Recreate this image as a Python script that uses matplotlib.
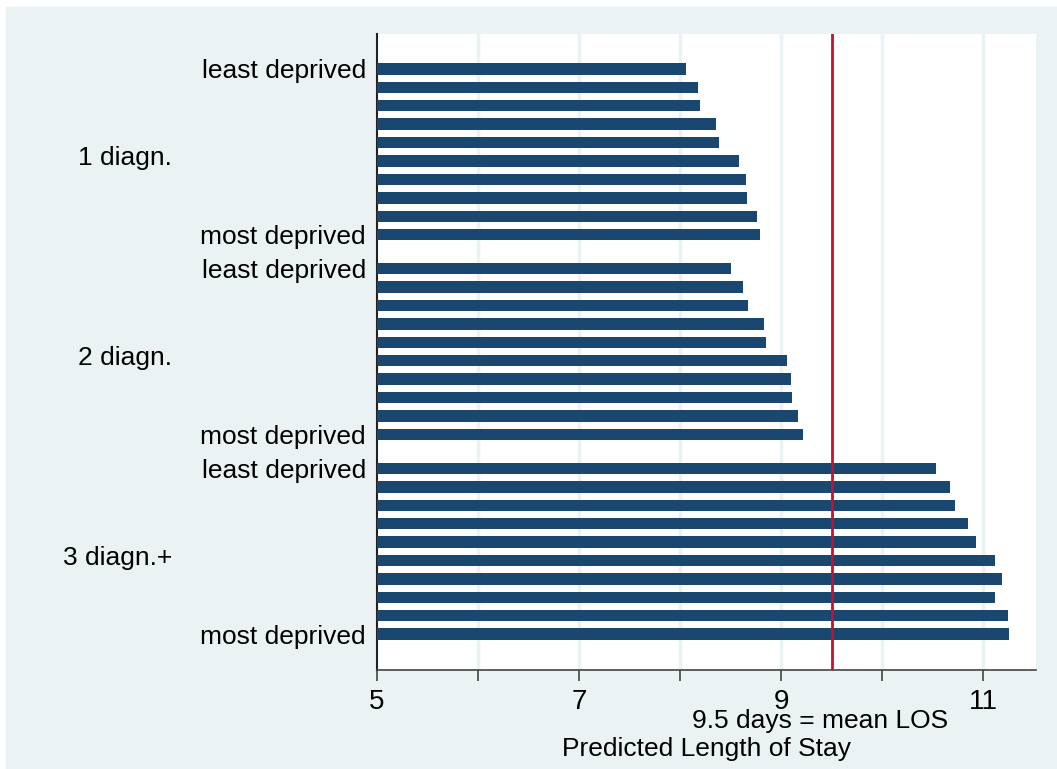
import matplotlib
matplotlib.use('Agg')
import matplotlib.pyplot as plt
import matplotlib.transforms as mtransforms
from matplotlib.patches import Rectangle

plt.rcParams['font.family'] = ['Liberation Sans', 'DejaVu Sans']

# Predicted length of stay by deprivation decile (least -> most deprived)
groups = ['1 diagn.', '2 diagn.', '3 diagn.+']
los_1 = [8.06, 8.18, 8.20, 8.35, 8.38, 8.58, 8.65, 8.66, 8.76, 8.79]
los_2 = [8.50, 8.62, 8.67, 8.83, 8.85, 9.06, 9.10, 9.11, 9.17, 9.21]
los_3 = [10.53, 10.67, 10.72, 10.85, 10.93, 11.11, 11.18, 11.11, 11.24, 11.25]
mean_los = 9.5
xtick_labels = [5, 7, 9, 11]

BG = '#EAF2F3'
BAR = '#1A476F'
FS = 19

fig = plt.figure(figsize=(10.57, 7.69), dpi=100, facecolor='white')
fig.patches.append(Rectangle((6 / 1057, 0), 1, 1 - 7 / 769,
                             transform=fig.transFigure, color=BG, zorder=-5))
ax = fig.add_axes([377 / 1057, 1 - 670 / 769, (1036 - 377) / 1057, (670 - 34) / 769])
ax.set_facecolor('white')

step = 10.85
ypos, yticks, ylabels = [], [], []
for g, vals in enumerate([los_1, los_2, los_3]):
    pos = [g * step + i for i in range(len(vals))]
    ax.barh(pos, vals, height=0.62, color=BAR, zorder=3)
    ypos.append(pos)
    yticks += [pos[0], pos[-1]]
    ylabels += ['least deprived', 'most deprived']

ax.axvline(mean_los, color='#C4122F', lw=2, zorder=4)

ax.set_xlim(5, 11.52)
ax.set_ylim(2 * step + 9 + 1.95, -1.9)
ax.set_xticks(xtick_labels)
ax.set_xticks([6, 8, 10], minor=True)
ax.set_xticklabels([str(v) for v in xtick_labels], fontsize=FS + 1)
ax.tick_params(axis='x', which='both', length=8, width=1.2, color='#444444', pad=6)
ax.set_yticks(yticks)
ax.set_yticklabels(ylabels, fontsize=FS)
ax.tick_params(axis='y', length=0, pad=8)
for x in range(6, 12):
    ax.axvline(x, color=BG, lw=2.5, zorder=1)

for s in ['top', 'right']:
    ax.spines[s].set_visible(False)
ax.spines['left'].set_color('#222222')
ax.spines['left'].set_linewidth(1.5)
ax.spines['bottom'].set_color('#444444')
ax.spines['bottom'].set_linewidth(1.2)

trans = mtransforms.blended_transform_factory(fig.transFigure, ax.transData)
for g, name in enumerate(groups):
    yc = (ypos[g][0] + ypos[g][-1]) / 2 + 0.35
    ax.text(172 / 1057, yc, name, transform=trans, ha='right', va='center',
            fontsize=FS)

fig.text(820 / 1057, 1 - 721 / 769, '9.5 days = mean LOS', ha='center',
         va='center', fontsize=FS)
fig.text(706 / 1057, 1 - 749 / 769, 'Predicted Length of Stay', ha='center',
         va='center', fontsize=FS)

fig.savefig('out.png', dpi=100, facecolor='white')
